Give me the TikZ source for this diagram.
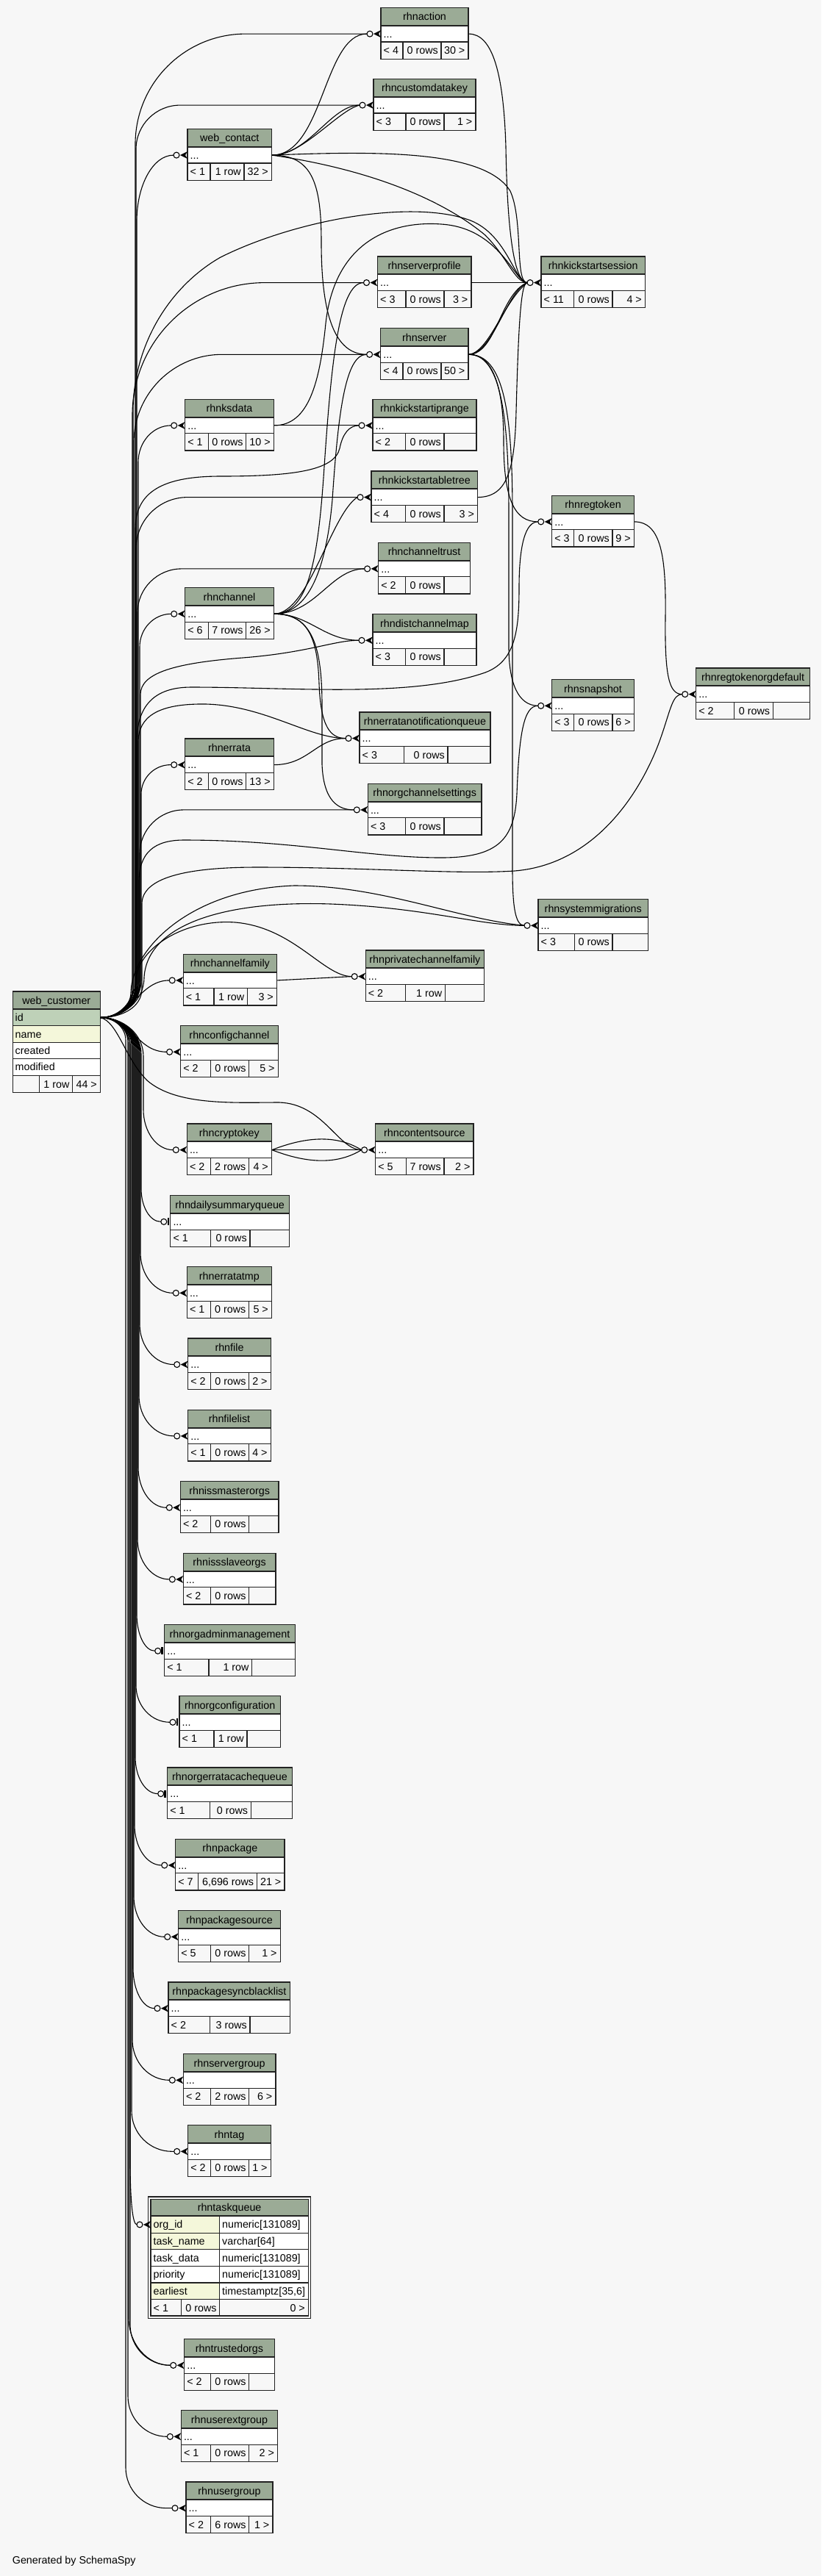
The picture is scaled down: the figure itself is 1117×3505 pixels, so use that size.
\documentclass[tikz,border=0pt]{standalone}
\usepackage{fontspec}
\setmainfont{Liberation Sans}
\usetikzlibrary{calc}
\definecolor{bgc}{HTML}{F7F7F7}
\definecolor{hdr}{HTML}{9BAB96}
\definecolor{pkc}{HTML}{BED1B8}
\definecolor{idx}{HTML}{F4F7DA}
\definecolor{ftr}{HTML}{F7F7F7}
\definecolor{tln}{HTML}{222222}
\newcommand\tfont{\fontsize{14.3}{17}\selectfont}
\tikzset{
 conn/.style={draw=black, line width=1.1pt},
 tline/.style={draw=tln, line width=1.3pt},
 hline/.style={draw=tln, line width=2pt},
 txt/.style={inner sep=0pt, font=\tfont, text height=10.3pt, text depth=0pt},
 ttl/.style={inner sep=0pt, font=\tfont, text height=10.3pt, text depth=0pt},
 rowbox/.style={inner sep=0pt, minimum height=22.2pt, rectangle},
}
\newcommand\tbl[9]{\def\tN{#1}\def\tXa{#2}\def\tXb{#3}\def\tY{#4}\def\tCa{#5}\def\tCb{#6}\def\tT{#7}\def\tL{#8}\def\tM{#9}\tblrest}
\newcommand\tblrest[1]{%
  \pgfmathsetmacro\tW{\tXb-\tXa}%
  \pgfmathsetmacro\yA{\tY+24.3}%
  \pgfmathsetmacro\yB{\yA+22.2}%
  \pgfmathsetmacro\yC{\yB+23.2}%
  \pgfmathsetmacro\yH{\tY+12.15}%
  \pgfmathsetmacro\yF{\yB+11.6}%
  \pgfmathsetmacro\xM{(\tXa+\tXb)/2}%
  \fill[hdr] (\tXa,\tY) rectangle (\tXb,\yA);%
  \fill[white] (\tXa,\yA) rectangle (\tXb,\yB);%
  \fill[ftr] (\tXa,\yB) rectangle (\tXb,\yC);%
  \node[ttl] (\tN-h) at (\xM,\yH) {\tT};%
  \node[rowbox,minimum width=\tW pt,anchor=north west] (\tN) at (\tXa,\yA) {};%
  \node[txt,anchor=west] (\tN-t) at ([xshift=3.5pt]\tN.west) {...};%
  \node[txt,anchor=west] (\tN-fl) at ({\tXa+3.5},\yF) {\tL};%
  \node[txt,anchor=east] (\tN-fm) at ({\tCb-4},\yF) {\tM};%
  \node[txt,anchor=east] (\tN-fr) at ({\tXb-4.5},\yF) {#1};%
  \draw[tline] (\tXa,\tY) rectangle (\tXb,\yC);%
  \draw[hline] (\tXa,\yA) -- (\tXb,\yA);%
  \draw[tline] (\tXa,\yB) -- (\tXb,\yB) (\tCa,\yB) -- (\tCa,\yC) (\tCb,\yB) -- (\tCb,\yC);%
  \coordinate (\tN-in) at ([xshift=-19pt]\tN.west);%
}
% web_customer -> target going up: #2 bundle x, #3 bend radius
\newcommand\wcup[3]{\draw[conn] let \p1=(#1-in), \n1={min(#3,(\x1-#2pt)/1pt)} in (wcid.east) to[out=0,in=-90] ({#2pt},{-1384pt+0.9*(#2pt-136pt)}) -- ({#2pt},{\y1-#3pt}) .. controls ({#2pt},{\y1-0.448*#3pt}) and ({#2pt+0.448*\n1*1pt},{\y1}) .. ({#2pt+\n1*1pt},{\y1}) -- (#1-in);}
\newcommand\wcdown[3]{\draw[conn] let \p1=(#1-in), \n1={min(#3,(\x1-#2pt)/1pt)} in (wcid.east) to[out=0,in=90] ({#2pt},{-1384pt-0.9*(#2pt-136pt)}) -- ({#2pt},{\y1+#3pt}) .. controls ({#2pt},{\y1+0.448*#3pt}) and ({#2pt+0.448*\n1*1pt},{\y1}) .. ({#2pt+\n1*1pt},{\y1}) -- (#1-in);}
\newcommand\crowend[1]{%
  \fill[black] ([xshift=-10pt]#1.west) -- ([yshift=5pt]#1.west) -- ([xshift=-3pt]#1.west) -- ([yshift=-5pt]#1.west) -- cycle;%
  \draw[line width=1.1pt,fill=bgc] ([xshift=-15pt]#1.west) circle (4pt);}
\newcommand\teeend[1]{%
  \draw[line width=2.6pt] ([xshift=-3pt,yshift=5pt]#1.west) -- ([xshift=-3pt,yshift=-5pt]#1.west);%
  \draw[line width=1.1pt,fill=bgc] ([xshift=-9pt]#1.west) circle (4pt);}
\begin{document}
\begin{tikzpicture}[x=1pt,y=-1pt]
\fill[bgc] (0,0) rectangle (1117,3505);
\useasboundingbox (0,0) rectangle (1117,3505);
% ---------------- tables ----------------
\tbl{rhnaction}{518}{637}{10.5}{548}{600}{rhnaction}{< 4}{0 rows}{30 >}
\tbl{rhncustomdatakey}{508}{647}{107.5}{552}{604}{rhncustomdatakey}{< 3}{0 rows}{1 >}
\tbl{webcontact}{255}{369.5}{175.5}{286}{332}{web\_contact}{< 1}{1 row}{32 >}
\tbl{rhnserverprofile}{513.5}{641}{349}{552}{604}{rhnserverprofile}{< 3}{0 rows}{3 >}
\tbl{rhnkickstartsession}{736}{877.5}{349}{780.6}{833}{rhnkickstartsession}{< 11}{0 rows}{4 >}
\tbl{rhnserver}{517.6}{637}{446.7}{548}{600}{rhnserver}{< 4}{0 rows}{50 >}
\tbl{rhnksdata}{251.7}{372.4}{543.3}{283.4}{334.8}{rhnksdata}{< 1}{0 rows}{10 >}
\tbl{rhnkickstartiprange}{507}{648}{543.3}{551.7}{604}{rhnkickstartiprange}{< 2}{0 rows}{}
\tbl{rhnkickstartabletree}{505}{649.7}{641}{551.7}{604}{rhnkickstartabletree}{< 4}{0 rows}{3 >}
\tbl{rhnregtoken}{750.7}{862.4}{674.3}{780.6}{833}{rhnregtoken}{< 3}{0 rows}{9 >}
\tbl{rhnchanneltrust}{514.6}{639.5}{738.3}{551.7}{604}{rhnchanneltrust}{< 2}{0 rows}{}
\tbl{rhnchannel}{251.7}{372.4}{799.7}{283.4}{334.8}{rhnchannel}{< 6}{7 rows}{26 >}
\tbl{rhndistchannelmap}{507}{648}{835.7}{551.7}{604}{rhndistchannelmap}{< 3}{0 rows}{}
\tbl{rhnregtokenorgdefault}{946.7}{1101.5}{909}{998.7}{1051.3}{rhnregtokenorgdefault}{< 2}{0 rows}{}
\tbl{rhnsnapshot}{750.7}{862.4}{924.7}{780.6}{833}{rhnsnapshot}{< 3}{0 rows}{6 >}
\tbl{rhnerratanotificationqueue}{489}{667}{969}{549.3}{609}{rhnerratanotificationqueue}{< 3}{0 rows}{}
\tbl{rhnerrata}{251.7}{372.4}{1005}{283.4}{334.8}{rhnerrata}{< 2}{0 rows}{13 >}
\tbl{rhnorgchannelsettings}{500.3}{655}{1066.3}{551.7}{604}{rhnorgchannelsettings}{< 3}{0 rows}{}
\tbl{rhnsystemmigrations}{732}{881.4}{1223.7}{781.6}{833}{rhnsystemmigrations}{< 3}{0 rows}{}
\tbl{rhnprivatechannelfamily}{497.2}{658.5}{1293}{551.6}{605.4}{rhnprivatechannelfamily}{< 2}{1 row}{}
\tbl{rhnchannelfamily}{249.2}{376.5}{1298.3}{291}{336.4}{rhnchannelfamily}{< 1}{1 row}{3 >}
\tbl{rhnconfigchannel}{245.6}{378.3}{1395.7}{286.8}{338.8}{rhnconfigchannel}{< 2}{0 rows}{5 >}
\tbl{rhncryptokey}{254.3}{369.5}{1529}{286.8}{338.5}{rhncryptokey}{< 2}{2 rows}{4 >}
\tbl{rhncontentsource}{510.6}{644.1}{1529}{552.3}{603.9}{rhncontentsource}{< 5}{7 rows}{2 >}
\tbl{rhndailysummaryqueue}{231.8}{393.5}{1626.7}{286.8}{339.9}{rhndailysummaryqueue}{< 1}{0 rows}{}
\tbl{rhnerratatmp}{254.3}{369.5}{1723.7}{286.8}{338.5}{rhnerratatmp}{< 1}{0 rows}{5 >}
\tbl{rhnfile}{255.7}{368.3}{1821}{286.7}{338.7}{rhnfile}{< 2}{0 rows}{2 >}
\tbl{rhnfilelist}{255.7}{368.3}{1918.3}{286.7}{338.7}{rhnfilelist}{< 1}{0 rows}{4 >}
\tbl{rhnissmasterorgs}{245.3}{379}{2015.7}{286.7}{338.7}{rhnissmasterorgs}{< 2}{0 rows}{}
\tbl{rhnissslaveorgs}{249.3}{375}{2113.3}{286.7}{338.7}{rhnissslaveorgs}{< 2}{0 rows}{}
\tbl{rhnorgadminmanagement}{223.7}{401.3}{2210.7}{284}{342.7}{rhnorgadminmanagement}{< 1}{1 row}{}
\tbl{rhnorgconfiguration}{244}{381.3}{2307.7}{291}{336}{rhnorgconfiguration}{< 1}{1 row}{}
\tbl{rhnorgerratacachequeue}{227.7}{397.3}{2405}{285.3}{341.3}{rhnorgerratacachequeue}{< 1}{0 rows}{}
\tbl{rhnpackage}{238.7}{387}{2502.3}{269.3}{349.3}{rhnpackage}{< 7}{6,696 rows}{21 >}
\tbl{rhnpackagesource}{242.7}{381.3}{2599.7}{286.7}{338.7}{rhnpackagesource}{< 5}{0 rows}{1 >}
\tbl{rhnpackagesyncblacklist}{229}{394.7}{2697}{285.3}{340}{rhnpackagesyncblacklist}{< 2}{3 rows}{}
\tbl{rhnservergroup}{249.3}{375}{2794.7}{286.7}{338.7}{rhnservergroup}{< 2}{2 rows}{6 >}
\tbl{rhntag}{255.7}{368.3}{2891.7}{286.7}{338.7}{rhntag}{< 2}{0 rows}{1 >}
\tbl{rhntrustedorgs}{250.7}{373.3}{3182.7}{286.7}{338.7}{rhntrustedorgs}{< 2}{0 rows}{}
\tbl{rhnuserextgroup}{246.3}{377.7}{3279.7}{286.7}{338.7}{rhnuserextgroup}{< 1}{0 rows}{2 >}
\tbl{rhnusergroup}{253}{371}{3377}{286.7}{338.7}{rhnusergroup}{< 2}{6 rows}{1 >}
\coordinate (rhndailysummaryqueue-in) at ([xshift=-13pt]rhndailysummaryqueue.west);
\coordinate (rhnorgadminmanagement-in) at ([xshift=-13pt]rhnorgadminmanagement.west);
\coordinate (rhnorgconfiguration-in) at ([xshift=-13pt]rhnorgconfiguration.west);
\coordinate (rhnorgerratacachequeue-in) at ([xshift=-13pt]rhnorgerratacachequeue.west);
% ---------------- web_customer ----------------
\fill[hdr] (17.3,1349) rectangle (136.2,1373);
\fill[pkc] (17.3,1373) rectangle (136.2,1395.7);
\fill[idx] (17.3,1395.7) rectangle (136.2,1418.3);
\fill[white] (17.3,1418.3) rectangle (136.2,1463.3);
\fill[ftr] (17.3,1463.3) rectangle (136.2,1486.7);
\node[ttl] (webcustomer-h) at (76.75,1361) {web\_customer};
\node[rowbox,minimum width=118.9pt,minimum height=22.7pt,anchor=north west] (wcid) at (17.3,1373) {};
\node[txt,anchor=west] (wcid-t) at (20.5,1384.3) {id};
\node[txt,anchor=west] (wcname) at (20.5,1407) {name};
\node[txt,anchor=west] (wccreated) at (20.5,1429.3) {created};
\node[txt,anchor=west] (wcmodified) at (20.5,1451.8) {modified};
\node[txt,anchor=east] (wcrows) at (94.6,1475) {1 row};
\node[txt,anchor=east] (wckids) at (132,1475) {44 >};
\draw[tline] (17.3,1349) rectangle (136.2,1486.7);
\draw[hline] (17.3,1373) -- (136.2,1373);
\draw[tline] (17.3,1395.7) -- (136.2,1395.7) (17.3,1418.3) -- (136.2,1418.3) (17.3,1440.3) -- (136.2,1440.3) (17.3,1463.3) -- (136.2,1463.3) (53.2,1463.3) -- (53.2,1486.7) (98.6,1463.3) -- (98.6,1486.7);
% ---------------- rhntaskqueue ----------------
\fill[hdr] (205,2992.3) rectangle (419.2,3015);
\fill[idx] (205,3015) rectangle (298.7,3060.6);
\fill[white] (298.7,3015) rectangle (419.2,3128.7);
\fill[white] (205,3060.6) rectangle (298.7,3106);
\fill[idx] (205,3106) rectangle (298.7,3128.7);
\fill[ftr] (205,3128.7) rectangle (419.2,3151);
\node[ttl] (rhntaskqueue-h) at (312.1,3003.6) {rhntaskqueue};
\node[rowbox,minimum width=214.2pt,minimum height=23.3pt,anchor=north west] (rhntaskqueue) at (205,3015) {};
\node[txt,anchor=west] (tq1) at (208.5,3026.6) {org\_id};
\node[txt,anchor=west] (tq1t) at (302,3026.6) {numeric[131089]};
\node[txt,anchor=west] (tq2) at (208.5,3049.4) {task\_name};
\node[txt,anchor=west] (tq2t) at (302,3049.4) {varchar[64]};
\node[txt,anchor=west] (tq3) at (208.5,3072.1) {task\_data};
\node[txt,anchor=west] (tq3t) at (302,3072.1) {numeric[131089]};
\node[txt,anchor=west] (tq4) at (208.5,3094.8) {priority};
\node[txt,anchor=west] (tq4t) at (302,3094.8) {numeric[131089]};
\node[txt,anchor=west] (tq5) at (208.5,3117.4) {earliest};
\node[txt,anchor=west] (tq5t) at (302,3117.4) {timestamptz[35,6]};
\node[txt,anchor=west] (tqfl) at (208.5,3139.9) {< 1};
\node[txt,anchor=east] (tqfm) at (294.7,3139.9) {0 rows};
\node[txt,anchor=east] (tqfr) at (415,3139.9) {0 >};
\draw[tline] (201.7,2989) rectangle (422.3,3154.3);
\draw[tline] (205,2992.3) rectangle (419.2,3151);
\draw[hline] (205,3015) -- (419.2,3015);
\draw[tline] (205,3038.3) -- (419.2,3038.3) (205,3060.6) -- (419.2,3060.6) (205,3083.6) -- (419.2,3083.6) (205,3106) -- (419.2,3106) (205,3128.7) -- (419.2,3128.7);
\draw[tline] (298.7,3015) -- (298.7,3151) (246.7,3128.7) -- (246.7,3151);
\coordinate (rhntaskqueue-in) at ([xshift=-19pt]rhntaskqueue.west);
\node[txt,anchor=west] (gen) at (16.7,3483) {Generated by SchemaSpy};
% ---------------- web_customer edges ----------------
\wcup{webcontact}{186}{90}
\wcup{rhnaction}{184}{150}
\wcup{rhncustomdatakey}{185}{60}
\wcup{rhnserverprofile}{180}{180}
\wcup{rhnserver}{182}{120}
\wcup{rhnksdata}{188}{50}
\wcup{rhnkickstartabletree}{185}{70}
\wcup{rhnchanneltrust}{187}{60}
\wcup{rhnchannel}{190}{45}
\wcup{rhnerrata}{192}{40}
\wcup{rhnorgchannelsettings}{190}{60}
\draw[conn] (wcid.east) to[out=0,in=-90] (184,1343) -- (184,720) .. controls (184,670) and (220,648) .. (300,648) .. controls (400,648) and (455,640) .. (462,610) .. controls (466,590) and (475,579) .. (rhnkickstartiprange-in);
\draw[conn] (wcid.east) to[out=0,in=-90] (191,1337) -- (191,945) .. controls (191,915) and (240,902) .. (330,895) .. controls (420,888) and (455,871) .. (rhndistchannelmap-in);
\draw[conn] (wcid.east) to[out=0,in=-90] (188,1340) -- (188,1010) .. controls (188,975) and (215,957) .. (280,958) .. controls (360,960) and (420,1004.5) .. (rhnerratanotificationqueue-in);
\draw[conn] (wcid.east) to[out=0,in=-90] (181,1345) -- (181,560) .. controls (181,470) and (230,390) .. (300,350) .. controls (400,300) and (560,270) .. (640,300) .. controls (690,320) and (700,384) .. (rhnkickstartsession-in);
\draw[conn] (wcid.east) to[out=0,in=-90] (186,1340) -- (186,1010) .. controls (186,960) and (210,935) .. (260,935) .. controls (400,935) and (560,950) .. (660,915) .. controls (700,900) and (706,860) .. (706,800) .. controls (706,740) and (715,710) .. (rhnregtoken-in);
\draw[conn] (wcid.east) to[out=0,in=-90] (189,1342) -- (189,1200) .. controls (189,1160) and (210,1143) .. (250,1143) .. controls (400,1143) and (500,1167) .. (600,1167) .. controls (680,1167) and (700,1140) .. (703,1080) .. controls (706,1000) and (712,960) .. (rhnsnapshot-in);
\draw[conn] (wcid.east) to[out=0,in=-90] (193,1345) -- (193,1230) .. controls (193,1195) and (250,1180) .. (350,1180) .. controls (500,1180) and (620,1190) .. (700,1185) .. controls (820,1175) and (880,1060) .. (900,1000) .. controls (912,965) and (915,944.5) .. (rhnregtokenorgdefault-in);
\draw[conn] (wcid.east) to[out=0,in=-90] (178,1350) .. controls (180,1290) and (260,1210) .. (400,1205) .. controls (520,1205) and (620,1250) .. (rhnsystemmigrations-in);
\draw[conn] (wcid.east) to[out=0,in=-90] (196,1330) .. controls (200,1260) and (300,1225) .. (450,1230) .. controls (580,1235) and (650,1259) .. (rhnsystemmigrations-in);
\draw[conn] (wcid.east) to[out=0,in=-90] (185,1330) .. controls (190,1290) and (250,1250) .. (320,1255) .. controls (400,1262) and (440,1328.5) .. (rhnprivatechannelfamily-in);
\draw[conn] (wcid.east) .. controls (180,1384) and (190,1334) .. (rhnchannelfamily-in);
\draw[conn] (wcid.east) .. controls (180,1384) and (185,1431) .. (rhnconfigchannel-in);
\draw[conn] (wcid.east) .. controls (160,1390) and (170,1440) .. (200,1470) .. controls (240,1505) and (320,1500) .. (380,1500) .. controls (440,1502) and (460,1564.5) .. (rhncontentsource-in);
\wcdown{rhncryptokey}{195}{55}
\wcdown{rhndailysummaryqueue}{192}{45}
\wcdown{rhnerratatmp}{191}{55}
\wcdown{rhnfile}{190}{55}
\wcdown{rhnfilelist}{189}{55}
\wcdown{rhnissmasterorgs}{188}{55}
\wcdown{rhnissslaveorgs}{187}{55}
\wcdown{rhnorgadminmanagement}{186}{50}
\wcdown{rhnorgconfiguration}{185}{50}
\wcdown{rhnorgerratacachequeue}{184}{50}
\wcdown{rhnpackage}{183}{55}
\wcdown{rhnpackagesource}{182}{55}
\wcdown{rhnpackagesyncblacklist}{181}{55}
\wcdown{rhnservergroup}{180}{55}
\wcdown{rhntag}{179}{55}
\draw[conn] (wcid.east) to[out=0,in=90] (177,1421) -- (177,2940) .. controls (177,2990) and (180,3026.6) .. (rhntaskqueue-in);
\wcdown{rhntrustedorgs}{177}{55}
\wcdown{rhntrustedorgs}{175}{65}
\wcdown{rhnuserextgroup}{174}{55}
\wcdown{rhnusergroup}{171}{55}
% ---------------- other edges ----------------
\draw[conn] (webcontact.east) .. controls (440,211) and (440,46) .. (rhnaction-in);
\draw[conn] (webcontact.east) .. controls (420,211) and (450,143) .. (rhncustomdatakey-in);
\draw[conn] (webcontact.east) .. controls (410,213) and (460,150) .. (rhncustomdatakey-in);
\draw[conn] (webcontact.east) .. controls (425,211) and (437,250) .. (437,330) .. controls (437,440) and (460,482) .. (rhnserver-in);
\draw[conn] (webcontact.east) .. controls (520,205) and (660,205) .. (694,260) .. controls (712,300) and (700,384) .. (rhnkickstartsession-in);
\draw[conn] (webcontact.east) .. controls (500,230) and (600,270) .. (660,320) .. controls (690,350) and (700,384) .. (rhnkickstartsession-in);
\draw[conn] (rhnaction.east) .. controls (670,46) and (685,100) .. (688,200) .. controls (690,320) and (700,384) .. (rhnkickstartsession-in);
\draw[conn] (rhnserverprofile.east) -- (rhnkickstartsession-in);
\draw[conn] (rhnksdata.east) .. controls (420,579) and (435,520) .. (443,440) .. controls (455,330) and (530,300) .. (600,305) .. controls (680,310) and (700,384) .. (rhnkickstartsession-in);
\draw[conn] (rhnksdata.east) -- (rhnkickstartiprange-in);
\draw[conn] (rhnserver.east) .. controls (675,482) and (680,400) .. (rhnkickstartsession-in);
\draw[conn] (rhnserver.east) .. controls (670,482) and (690,395) .. (rhnkickstartsession-in);
\draw[conn] (rhnserver.east) .. controls (665,480) and (685,410) .. (rhnkickstartsession-in);
\draw[conn] (rhnserver.east) .. controls (675,482) and (685,540) .. (685,600) .. controls (685,680) and (700,710) .. (rhnregtoken-in);
\draw[conn] (rhnserver.east) .. controls (680,482) and (692,560) .. (692,700) -- (692,880) .. controls (692,930) and (705,960) .. (rhnsnapshot-in);
\draw[conn] (rhnserver.east) .. controls (685,482) and (697,560) .. (697,700) -- (697,1180) .. controls (697,1230) and (700,1259) .. (rhnsystemmigrations-in);
\draw[conn] (rhnkickstartabletree.east) .. controls (690,676) and (700,640) .. (702,560) .. controls (705,450) and (708,384) .. (rhnkickstartsession-in);
\draw[conn] (rhnchannel.east) .. controls (420,835) and (432,760) .. (440,650) .. controls (450,500) and (460,384.5) .. (rhnserverprofile-in);
\draw[conn] (rhnchannel.east) .. controls (425,835) and (445,760) .. (452,680) .. controls (460,560) and (470,482) .. (rhnserver-in);
\draw[conn] (rhnchannel.east) .. controls (420,835) and (450,700) .. (rhnkickstartabletree-in);
\draw[conn] (rhnchannel.east) .. controls (430,835) and (450,774) .. (rhnchanneltrust-in);
\draw[conn] (rhnchannel.east) .. controls (420,835) and (440,871) .. (rhndistchannelmap-in);
\draw[conn] (rhnchannel.east) .. controls (420,835) and (432,870) .. (434,930) .. controls (436,990) and (450,1004.5) .. (rhnerratanotificationqueue-in);
\draw[conn] (rhnchannel.east) .. controls (425,835) and (438,880) .. (438,960) -- (438,1040) .. controls (440,1090) and (460,1102) .. (rhnorgchannelsettings-in);
\draw[conn] (rhnerrata.east) .. controls (420,1040.5) and (430,1004.5) .. (rhnerratanotificationqueue-in);
\draw[conn] (rhnregtoken.east) .. controls (900,710) and (906,760) .. (905,840) .. controls (904,920) and (910,944.5) .. (rhnregtokenorgdefault-in);
\draw[conn] (rhnchannelfamily.east) -- (rhnprivatechannelfamily-in);
\draw[conn] (rhncryptokey.east) -- (rhncontentsource-in);
\draw[conn] (rhncryptokey.east) .. controls (420,1545) and (460,1545) .. (rhncontentsource-in);
\draw[conn] (rhncryptokey.east) .. controls (420,1584) and (460,1584) .. (rhncontentsource-in);
% ---------------- ends ----------------
\foreach \n in {rhnaction,rhncustomdatakey,webcontact,rhnserverprofile,rhnkickstartsession,rhnserver,rhnksdata,rhnkickstartiprange,rhnkickstartabletree,rhnregtoken,rhnchanneltrust,rhnchannel,rhndistchannelmap,rhnregtokenorgdefault,rhnsnapshot,rhnerratanotificationqueue,rhnerrata,rhnorgchannelsettings,rhnsystemmigrations,rhnprivatechannelfamily,rhnchannelfamily,rhnconfigchannel,rhncryptokey,rhncontentsource,rhnerratatmp,rhnfile,rhnfilelist,rhnissmasterorgs,rhnissslaveorgs,rhnpackage,rhnpackagesource,rhnpackagesyncblacklist,rhnservergroup,rhntag,rhntaskqueue,rhntrustedorgs,rhnuserextgroup,rhnusergroup}{\crowend{\n}}
\foreach \n in {rhndailysummaryqueue,rhnorgadminmanagement,rhnorgconfiguration,rhnorgerratacachequeue}{\teeend{\n}}
\end{tikzpicture}
\end{document}
